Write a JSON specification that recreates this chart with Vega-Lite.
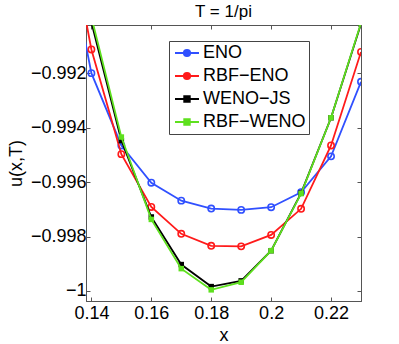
{
  "$schema": "https://vega.github.io/schema/vega-lite/v6.json",
  "width": 275,
  "height": 276,
  "autosize": "none",
  "padding": {"left": 86, "top": 25, "right": 38, "bottom": 43},
  "title": {"text": "T = 1/pi", "fontSize": 17, "fontWeight": "normal", "font": "Liberation Sans", "color": "black", "offset": 4},
  "config": {
    "view": {"stroke": "#555"},
    "axis": {
      "grid": false,
      "domainColor": "#555",
      "tickColor": "#555",
      "tickSize": -4,
      "labelFont": "Liberation Sans",
      "labelFontSize": 18,
      "labelColor": "black",
      "titleFont": "Liberation Sans",
      "titleFontSize": 18,
      "titleFontWeight": "normal",
      "titleColor": "black"
    }
  },
  "data": {
    "values": [
      {"series": "ENO", "x": 0.13, "y": -0.98634},
      {"series": "ENO", "x": 0.14, "y": -0.99199},
      {"series": "ENO", "x": 0.15, "y": -0.99465},
      {"series": "ENO", "x": 0.16, "y": -0.99602},
      {"series": "ENO", "x": 0.17, "y": -0.99668},
      {"series": "ENO", "x": 0.18, "y": -0.99697},
      {"series": "ENO", "x": 0.19, "y": -0.99702},
      {"series": "ENO", "x": 0.2, "y": -0.99692},
      {"series": "ENO", "x": 0.21, "y": -0.99637},
      {"series": "ENO", "x": 0.22, "y": -0.99505},
      {"series": "ENO", "x": 0.23, "y": -0.99231},
      {"series": "RBF−ENO", "x": 0.13, "y": -0.98527},
      {"series": "RBF−ENO", "x": 0.14, "y": -0.99112},
      {"series": "RBF−ENO", "x": 0.15, "y": -0.99497},
      {"series": "RBF−ENO", "x": 0.16, "y": -0.99691},
      {"series": "RBF−ENO", "x": 0.17, "y": -0.9979},
      {"series": "RBF−ENO", "x": 0.18, "y": -0.99834},
      {"series": "RBF−ENO", "x": 0.19, "y": -0.99836},
      {"series": "RBF−ENO", "x": 0.2, "y": -0.99794},
      {"series": "RBF−ENO", "x": 0.21, "y": -0.99698},
      {"series": "RBF−ENO", "x": 0.22, "y": -0.99465},
      {"series": "RBF−ENO", "x": 0.23, "y": -0.99121},
      {"series": "WENO−JS", "x": 0.14, "y": -0.99012},
      {"series": "WENO−JS", "x": 0.15, "y": -0.99447},
      {"series": "WENO−JS", "x": 0.16, "y": -0.99728},
      {"series": "WENO−JS", "x": 0.17, "y": -0.99903},
      {"series": "WENO−JS", "x": 0.18, "y": -0.99984},
      {"series": "WENO−JS", "x": 0.19, "y": -0.99963},
      {"series": "WENO−JS", "x": 0.2, "y": -0.99852},
      {"series": "WENO−JS", "x": 0.21, "y": -0.9964},
      {"series": "WENO−JS", "x": 0.22, "y": -0.99363},
      {"series": "WENO−JS", "x": 0.23, "y": -0.99018},
      {"series": "RBF−WENO", "x": 0.14, "y": -0.98993},
      {"series": "RBF−WENO", "x": 0.15, "y": -0.99434},
      {"series": "RBF−WENO", "x": 0.16, "y": -0.99737},
      {"series": "RBF−WENO", "x": 0.17, "y": -0.99918},
      {"series": "RBF−WENO", "x": 0.18, "y": -0.99996},
      {"series": "RBF−WENO", "x": 0.19, "y": -0.99968},
      {"series": "RBF−WENO", "x": 0.2, "y": -0.99852},
      {"series": "RBF−WENO", "x": 0.21, "y": -0.99642},
      {"series": "RBF−WENO", "x": 0.22, "y": -0.99363},
      {"series": "RBF−WENO", "x": 0.23, "y": -0.99015}
    ]
  },
  "layer": [
    {
      "encoding": {
        "x": {"field": "x", "type": "quantitative", "title": "x",
          "scale": {"domain": [0.1382, 0.23], "nice": false, "zero": false},
          "axis": {"values": [0.14, 0.16, 0.18, 0.2, 0.22], "format": "~g", "labelPadding": 7, "titlePadding": 4}},
        "y": {"field": "y", "type": "quantitative", "title": "u(x,T)",
          "scale": {"domain": [-1.00037, -0.99022], "nice": false, "zero": false},
          "axis": {"values": [-1, -0.998, -0.996, -0.994, -0.992], "format": "~g", "labelPadding": 4, "titlePadding": 5}},
        "color": {"field": "series", "type": "nominal",
          "scale": {"domain": ["ENO", "RBF−ENO", "WENO−JS", "RBF−WENO"], "range": ["#3050ff", "#ff1a1a", "#000000", "#5ee01e"]},
          "legend": {
            "title": null,
            "orient": "none",
            "legendX": 83,
            "legendY": 16,
            "fillColor": "white",
            "strokeColor": "#444",
            "padding": 3,
            "symbolOffset": 6,
            "symbolSize": 256,
            "symbolStrokeWidth": 1.8,
            "rowPadding": 5,
            "labelOffset": 7,
            "labelFont": "Liberation Sans",
            "labelFontSize": 18,
            "labelColor": "black",
            "encode": {
              "symbols": {
                "update": {
                  "shape": {"signal": "(datum.value == 'ENO' || datum.value == 'RBF−ENO') ? 'M-1.5,0H1.5M-0.4,0A0.4,0.4,0,1,1,0.4,0A0.4,0.4,0,1,1,-0.4,0Z' : 'M-1.5,0H1.5M-0.35,-0.35H0.35V0.35H-0.35Z'"},
                  "fill": {"signal": "(datum.value == 'ENO' || datum.value == 'RBF−ENO') ? 'transparent' : scale('color', datum.value)"},
                  "stroke": {"signal": "scale('color', datum.value)"}
                }
              }
            }
          }
        },
        "order": {"field": "x", "type": "quantitative"}
      },
      "layer": [
        {"transform": [{"filter": "datum.series == 'ENO'"}],
         "mark": {"type": "line", "clip": true, "strokeWidth": 1.8, "point": {"shape": "circle", "filled": false, "size": 40, "strokeWidth": 1.6}}},
        {"transform": [{"filter": "datum.series == 'RBF−ENO'"}],
         "mark": {"type": "line", "clip": true, "strokeWidth": 1.8, "point": {"shape": "circle", "filled": false, "size": 40, "strokeWidth": 1.6}}},
        {"transform": [{"filter": "datum.series == 'WENO−JS'"}],
         "mark": {"type": "line", "clip": true, "strokeWidth": 1.8, "point": {"shape": "square", "filled": true, "size": 30}}},
        {"transform": [{"filter": "datum.series == 'RBF−WENO'"}],
         "mark": {"type": "line", "clip": true, "strokeWidth": 1.8, "point": {"shape": "square", "filled": true, "size": 30}}}
      ]
    },
    {
      "mark": {"type": "point", "opacity": 0, "clip": true},
      "encoding": {
        "x": {"field": "x", "type": "quantitative",
          "scale": {"domain": [0.1382, 0.23], "nice": false, "zero": false},
          "axis": {"orient": "top", "values": [0.14, 0.16, 0.18, 0.2, 0.22], "labels": false, "title": null}},
        "y": {"field": "y", "type": "quantitative",
          "scale": {"domain": [-1.00037, -0.99022], "nice": false, "zero": false},
          "axis": {"orient": "right", "values": [-1, -0.998, -0.996, -0.994, -0.992], "labels": false, "title": null}}
      }
    }
  ],
  "resolve": {"axis": {"x": "independent", "y": "independent"}}
}
